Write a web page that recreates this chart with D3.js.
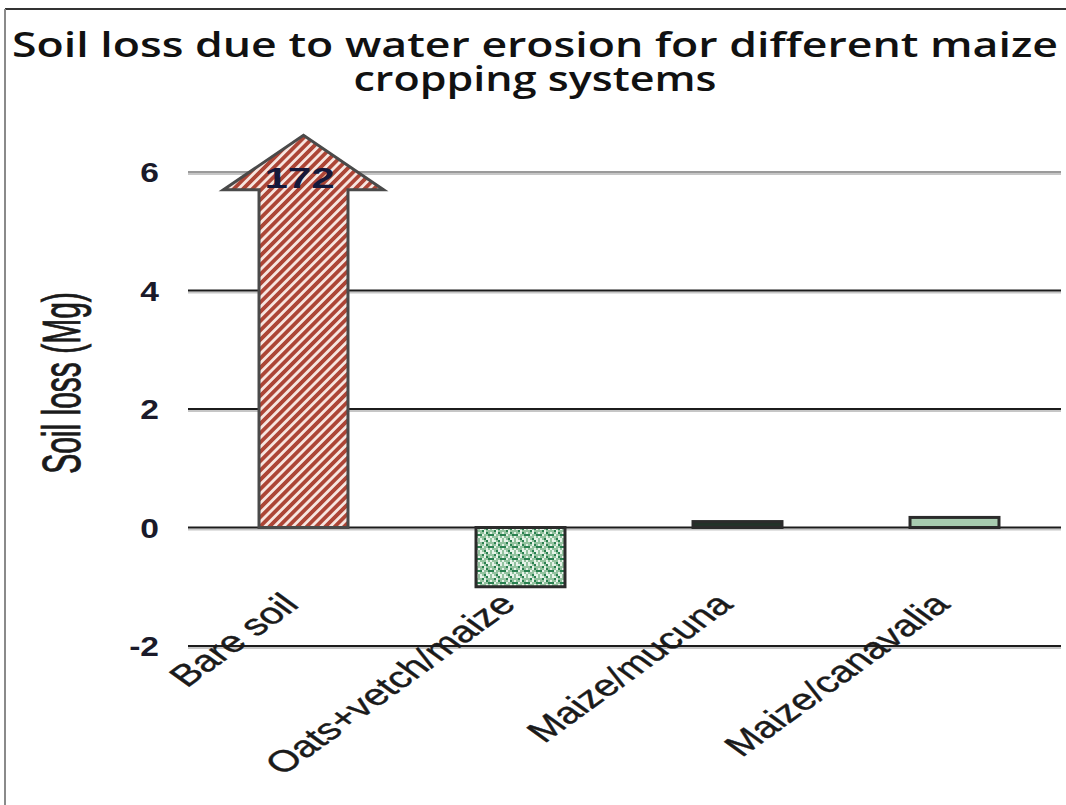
<!DOCTYPE html>
<html>
<head>
<meta charset="utf-8">
<script src="https://cdn.jsdelivr.net/npm/d3@7"></script>
<style>
  html, body { margin: 0; padding: 0; background: #fff; }
  svg { display: block; }
</style>
</head>
<body>
<script>
// Soil loss per cropping system (Mg); bare soil is off the scale and drawn as an arrow
const categories = ["Bare soil", "Oats+vetch/maize", "Maize/mucuna", "Maize/canavalia"];
const soilLoss = [172, -1.0, 0.1, 0.17];
const valueLabels = ["172", "", "", ""];
const yTicks = [-2, 0, 2, 4, 6];
const titleLines = ["Soil loss due to water erosion for different maize", "cropping systems"];
const yTitle = "Soil loss (Mg)";
const fills = ["url(#stripes)", "url(#speckle)", "#233229", "#a8ccb0"];

const W = 1066, H = 805;
const yMax = 6, arrowBase = 5.7, arrowTip = 6.62;

const svg = d3.select("body").append("svg").attr("width", W).attr("height", H);
const defs = svg.append("defs");

// diagonal red stripes
const stripes = defs.append("pattern").attr("id", "stripes")
  .attr("patternUnits", "userSpaceOnUse").attr("width", 6.6).attr("height", 6.6)
  .attr("patternTransform", "rotate(45)");
stripes.append("rect").attr("width", 6.6).attr("height", 6.6).attr("fill", "#f7e6e1");
stripes.append("rect").attr("width", 3.8).attr("height", 6.6).attr("fill", "#ac4536");

// green speckle texture
const speckle = defs.append("pattern").attr("id", "speckle")
  .attr("patternUnits", "userSpaceOnUse").attr("width", 12).attr("height", 12);
speckle.append("rect").attr("width", 12).attr("height", 12).attr("fill", "#93c29f");
const lightCells = [[0,0],[4,2],[8,0],[2,6],[6,8],[10,4],[0,10],[8,10],[4,4],[10,8],[2,0],[6,10]];
const darkCells = [[2,2],[6,0],[10,6],[0,6],[6,4],[4,10],[8,6]];
speckle.selectAll("rect.l").data(lightCells).join("rect").attr("class", "l")
  .attr("x", d => d[0]).attr("y", d => d[1]).attr("width", 2).attr("height", 2).attr("fill", "#e6f2e8");
speckle.selectAll("rect.d").data(darkCells).join("rect").attr("class", "d")
  .attr("x", d => d[0]).attr("y", d => d[1]).attr("width", 2).attr("height", 2).attr("fill", "#2a8050");

// frame
svg.append("line").attr("x1", 5).attr("x2", W).attr("y1", 9).attr("y2", 9)
  .attr("stroke", "#333").attr("stroke-width", 2);
svg.append("line").attr("x1", 5).attr("x2", 5).attr("y1", 9).attr("y2", H)
  .attr("stroke", "#8a8a8a").attr("stroke-width", 2);

// two-line title in one text block
const titleSizes = [1046, 363];
svg.append("text")
  .attr("text-anchor", "middle")
  .attr("font-family", "'Open Sans', 'DejaVu Sans', sans-serif")
  .attr("font-weight", 600).attr("font-size", 34).attr("fill", "#111")
  .selectAll("tspan").data(titleLines).join("tspan")
  .attr("x", 535).attr("y", (d, i) => 57 + i * 34)
  .attr("textLength", (d, i) => titleSizes[i]).attr("lengthAdjust", "spacingAndGlyphs")
  .text(d => d);

// scales
const x = d3.scaleBand().domain(categories).range([195, 1063]).paddingInner(0.59).paddingOuter(0.295);
const y = d3.scaleLinear().domain([-2, 6]).range([646, 172]);

// gridlines with a soft shadow
const grid = svg.append("g");
grid.selectAll("line.sh").data(yTicks).join("line").attr("class", "sh")
  .attr("x1", 188).attr("x2", 1061).attr("y1", d => y(d) + 2).attr("y2", d => y(d) + 2)
  .attr("stroke", "#c6c6c6").attr("stroke-width", 2);
grid.selectAll("line.g").data(yTicks).join("line").attr("class", "g")
  .attr("x1", 188).attr("x2", 1061).attr("y1", d => y(d)).attr("y2", d => y(d))
  .attr("stroke", d => d === yMax ? "#9a9a9a" : "#1c1c1c").attr("stroke-width", 2);

// y tick labels
svg.selectAll("text.tick").data(yTicks).join("text").attr("class", "tick")
  .attr("transform", d => `translate(159,${y(d) + 10}) scale(1.2,1)`)
  .attr("text-anchor", "end")
  .attr("font-family", "'Liberation Sans', Arial, sans-serif")
  .attr("font-weight", "bold").attr("font-size", 28).attr("fill", "#1a1a2a")
  .text(d => d);

// y axis title
svg.append("text")
  .attr("transform", `translate(80,383) scale(1.8,1) rotate(-90)`)
  .attr("text-anchor", "middle")
  .attr("font-family", "'Liberation Sans', Arial, sans-serif")
  .attr("font-size", 30).attr("fill", "#1a1a1a")
  .attr("stroke", "#1a1a1a").attr("stroke-width", 0.5)
  .text(yTitle);

// bars; values beyond the axis become an upward arrow
const data = categories.map((c, i) => ({ c, v: soilLoss[i], fill: fills[i], label: valueLabels[i] }));
const bw = x.bandwidth();
const marks = svg.append("g");
data.forEach(d => {
  const x0 = x(d.c), cx = x0 + bw / 2;
  if (d.v > yMax) {
    const pts = [
      [x0, y(0)], [x0, y(arrowBase)], [cx - bw * 0.9, y(arrowBase)], [cx, y(arrowTip)],
      [cx + bw * 0.9, y(arrowBase)], [x0 + bw, y(arrowBase)], [x0 + bw, y(0)]
    ];
    marks.append("path").attr("d", d3.line()(pts) + "Z")
      .attr("fill", d.fill).attr("stroke", "#4a4a4a").attr("stroke-width", 3)
      .attr("stroke-linejoin", "miter");
  } else {
    marks.append("rect").attr("x", x0).attr("width", bw)
      .attr("y", y(Math.max(0, d.v))).attr("height", Math.abs(y(d.v) - y(0)))
      .attr("fill", d.fill).attr("stroke", "#2b2b2b").attr("stroke-width", 3);
  }
  if (d.label) {
    marks.append("text").attr("x", cx - 4).attr("y", y(arrowBase) - 2)
      .attr("text-anchor", "middle")
      .attr("font-family", "'Liberation Sans', Arial, sans-serif")
      .attr("font-weight", "bold").attr("font-size", 30).attr("fill", "#14183a")
      .attr("textLength", 70).attr("lengthAdjust", "spacingAndGlyphs")
      .text(d.label);
  }
});

// slanted category labels
svg.selectAll("text.cat").data(categories).join("text").attr("class", "cat")
  .attr("transform", d => `translate(${x(d) + bw / 2 - 3},606) scale(1.38,1) rotate(-45)`)
  .attr("text-anchor", "end")
  .attr("font-family", "'Liberation Sans', Arial, sans-serif")
  .attr("font-size", 30).attr("fill", "#1a1a1a")
  .attr("stroke", "#1a1a1a").attr("stroke-width", 0.4)
  .text(d => d);
</script>
</body>
</html>
